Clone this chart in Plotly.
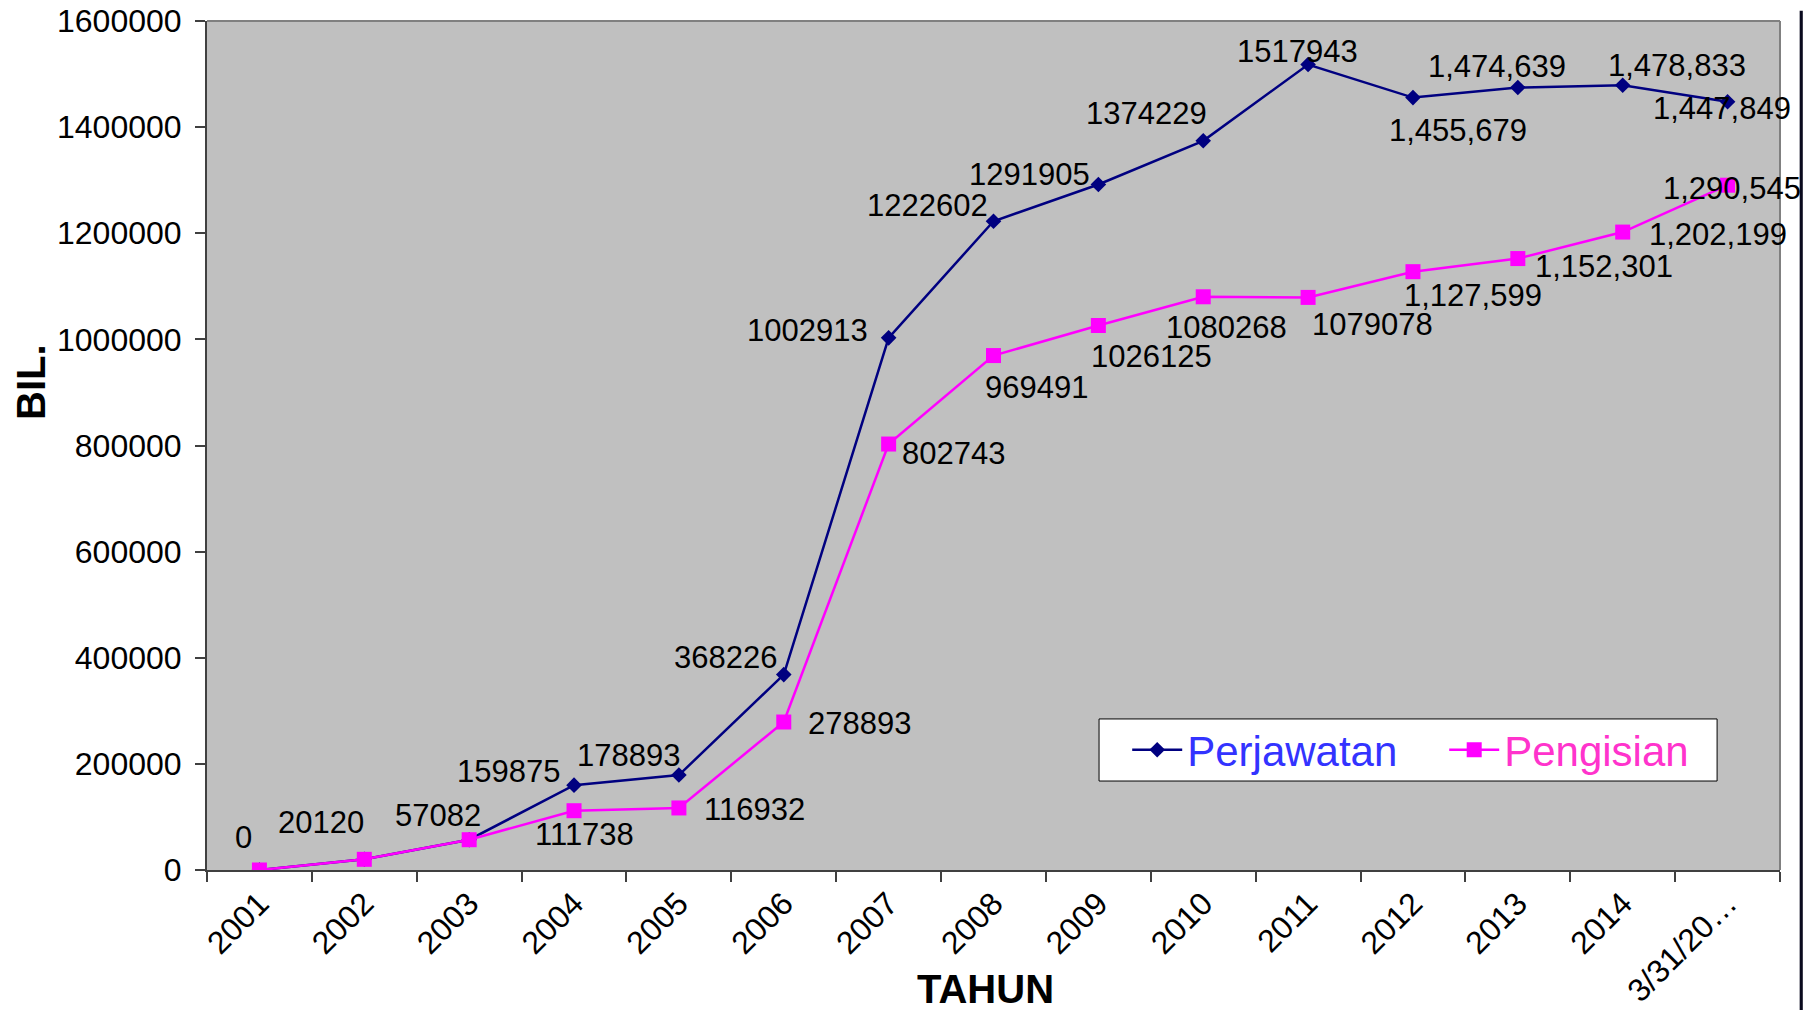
import plotly.graph_objects as go

categories = ["2001", "2002", "2003", "2004", "2005", "2006", "2007", "2008",
              "2009", "2010", "2011", "2012", "2013", "2014", "3/31/20…"]
perjawatan = [0, 20120, 57082, 159875, 178893, 368226, 1002913, 1222602,
              1291905, 1374229, 1517943, 1455679, 1474639, 1478833, 1447849]
pengisian = [0, 20120, 57082, 111738, 116932, 278893, 802743, 969491,
             1026125, 1080268, 1079078, 1127599, 1152301, 1202199, 1290545]
perjawatan_labels = ["0", "20120", "57082", "159875", "178893", "368226", "1002913",
                     "1222602", "1291905", "1374229", "1517943", "1,455,679",
                     "1,474,639", "1,478,833", "1,447,849"]
pengisian_labels = [None, None, None, "111738", "116932", "278893", "802743", "969491",
                    "1026125", "1080268", "1079078", "1,127,599", "1,152,301",
                    "1,202,199", "1,290,545"]
y_ticks = [0, 200000, 400000, 600000, 800000, 1000000, 1200000, 1400000, 1600000]

# label offsets in pixels (dx right, dy down) relative to the point
perj_off = [(-16, -33), (-43, -37), (-31, -24), (-66, -14), (-50, -20), (-58, -17),
            (-81, -7), (-66, -16), (-69, -10), (-57, -27), (-11, -13), (45, 33),
            (-21, -21), (54, -20), (-6, 7)]
peng_off = [None, None, None, (10, 24), (76, 2), (76, 1), (65, 9), (43, 32), (53, 31),
            (23, 31), (64, 27), (60, 24), (86, 8), (95, 2), (4, 3)]

FONT = "Liberation Sans, Arial, sans-serif"

fig = go.Figure()
fig.add_trace(go.Scatter(
    x=categories, y=perjawatan, mode="lines+markers",
    name="<span style='color:#3333FF'>Perjawatan</span>",
    line=dict(color="#000080", width=2.5),
    marker=dict(symbol="diamond", size=12, color="#000080"),
))
fig.add_trace(go.Scatter(
    x=categories, y=pengisian, mode="lines+markers",
    name="<span style='color:#FF33CC'>Pengisian</span>",
    line=dict(color="#FF00FF", width=2.5),
    marker=dict(symbol="square", size=15, color="#FF00FF"),
))

annotations = []
for i, (v, t, off) in enumerate(zip(perjawatan, perjawatan_labels, perj_off)):
    annotations.append(dict(x=i, y=v, text=t, showarrow=False, xanchor="center",
                            yanchor="middle", xshift=off[0], yshift=-off[1],
                            font=dict(family=FONT, size=31, color="black")))
for i, (v, t, off) in enumerate(zip(pengisian, pengisian_labels, peng_off)):
    if t is None:
        continue
    annotations.append(dict(x=i, y=v, text=t, showarrow=False, xanchor="center",
                            yanchor="middle", xshift=off[0], yshift=-off[1],
                            font=dict(family=FONT, size=31, color="black")))

# axis titles
annotations.append(dict(x=-0.1119, y=0.5748, xref="paper", yref="paper", text="<b>BIL.</b>",
                        showarrow=False, textangle=-90, xanchor="center", yanchor="middle",
                        font=dict(family=FONT, size=40, color="black")))
annotations.append(dict(x=0.4946, y=-0.1402, xref="paper", yref="paper", text="<b>TAHUN</b>",
                        showarrow=False, xanchor="center", yanchor="middle",
                        font=dict(family=FONT, size=40, color="black")))

fig.update_layout(
    width=1812, height=1010,
    margin=dict(l=199, r=40, t=13, b=148),
    paper_bgcolor="white",
    plot_bgcolor="#C0C0C0",
    font=dict(family=FONT, size=31, color="black"),
    showlegend=True,
    legend=dict(
        orientation="h", x=0.585, y=0.1815, xanchor="left", yanchor="top",
        bgcolor="rgba(0,0,0,0)", borderwidth=0,
        font=dict(family=FONT, size=42),
        itemwidth=50, entrywidth=252,
    ),
    annotations=annotations,
    shapes=[
        # legend box
        dict(type="rect", xref="paper", yref="paper", x0=0.5671, x1=0.960,
             y0=0.1048, y1=0.1779, fillcolor="white", line=dict(color="black", width=1),
             layer="above"),
        dict(type="line", xref="paper", yref="paper", x0=0, x1=1, y0=1, y1=1,
             line=dict(color="#808080", width=2)),
        dict(type="line", xref="paper", yref="paper", x0=1, x1=1, y0=0, y1=1,
             line=dict(color="#808080", width=2)),
        # outer chart frame (right edge)
        dict(type="rect", xref="paper", yref="paper", x0=1.0125, x1=1.0145,
             y0=-0.17, y1=1.012, fillcolor="#0a0a1e", line=dict(width=0),
             layer="above"),
    ],
)
fig.update_xaxes(
    type="category", range=[-0.5, len(categories) - 0.5], tickangle=-45,
    tickson="boundaries", automargin=False,
    ticks="outside", ticklen=10, tickcolor="#404040", tickwidth=1.5,
    showline=True, linecolor="#404040", linewidth=2, showgrid=False,
    tickfont=dict(family=FONT, size=32, color="black"),
)
fig.update_yaxes(
    range=[0, 1600000], tickvals=y_ticks, tickformat="d", automargin=False,
    ticklabeloverflow="allow", ticklabelstandoff=7,
    ticks="outside", ticklen=10, tickcolor="#404040", tickwidth=1.5,
    showline=True, linecolor="#404040", linewidth=2, showgrid=False, zeroline=False,
    tickfont=dict(family=FONT, size=32, color="black"),
)

fig.write_html("out.html")
